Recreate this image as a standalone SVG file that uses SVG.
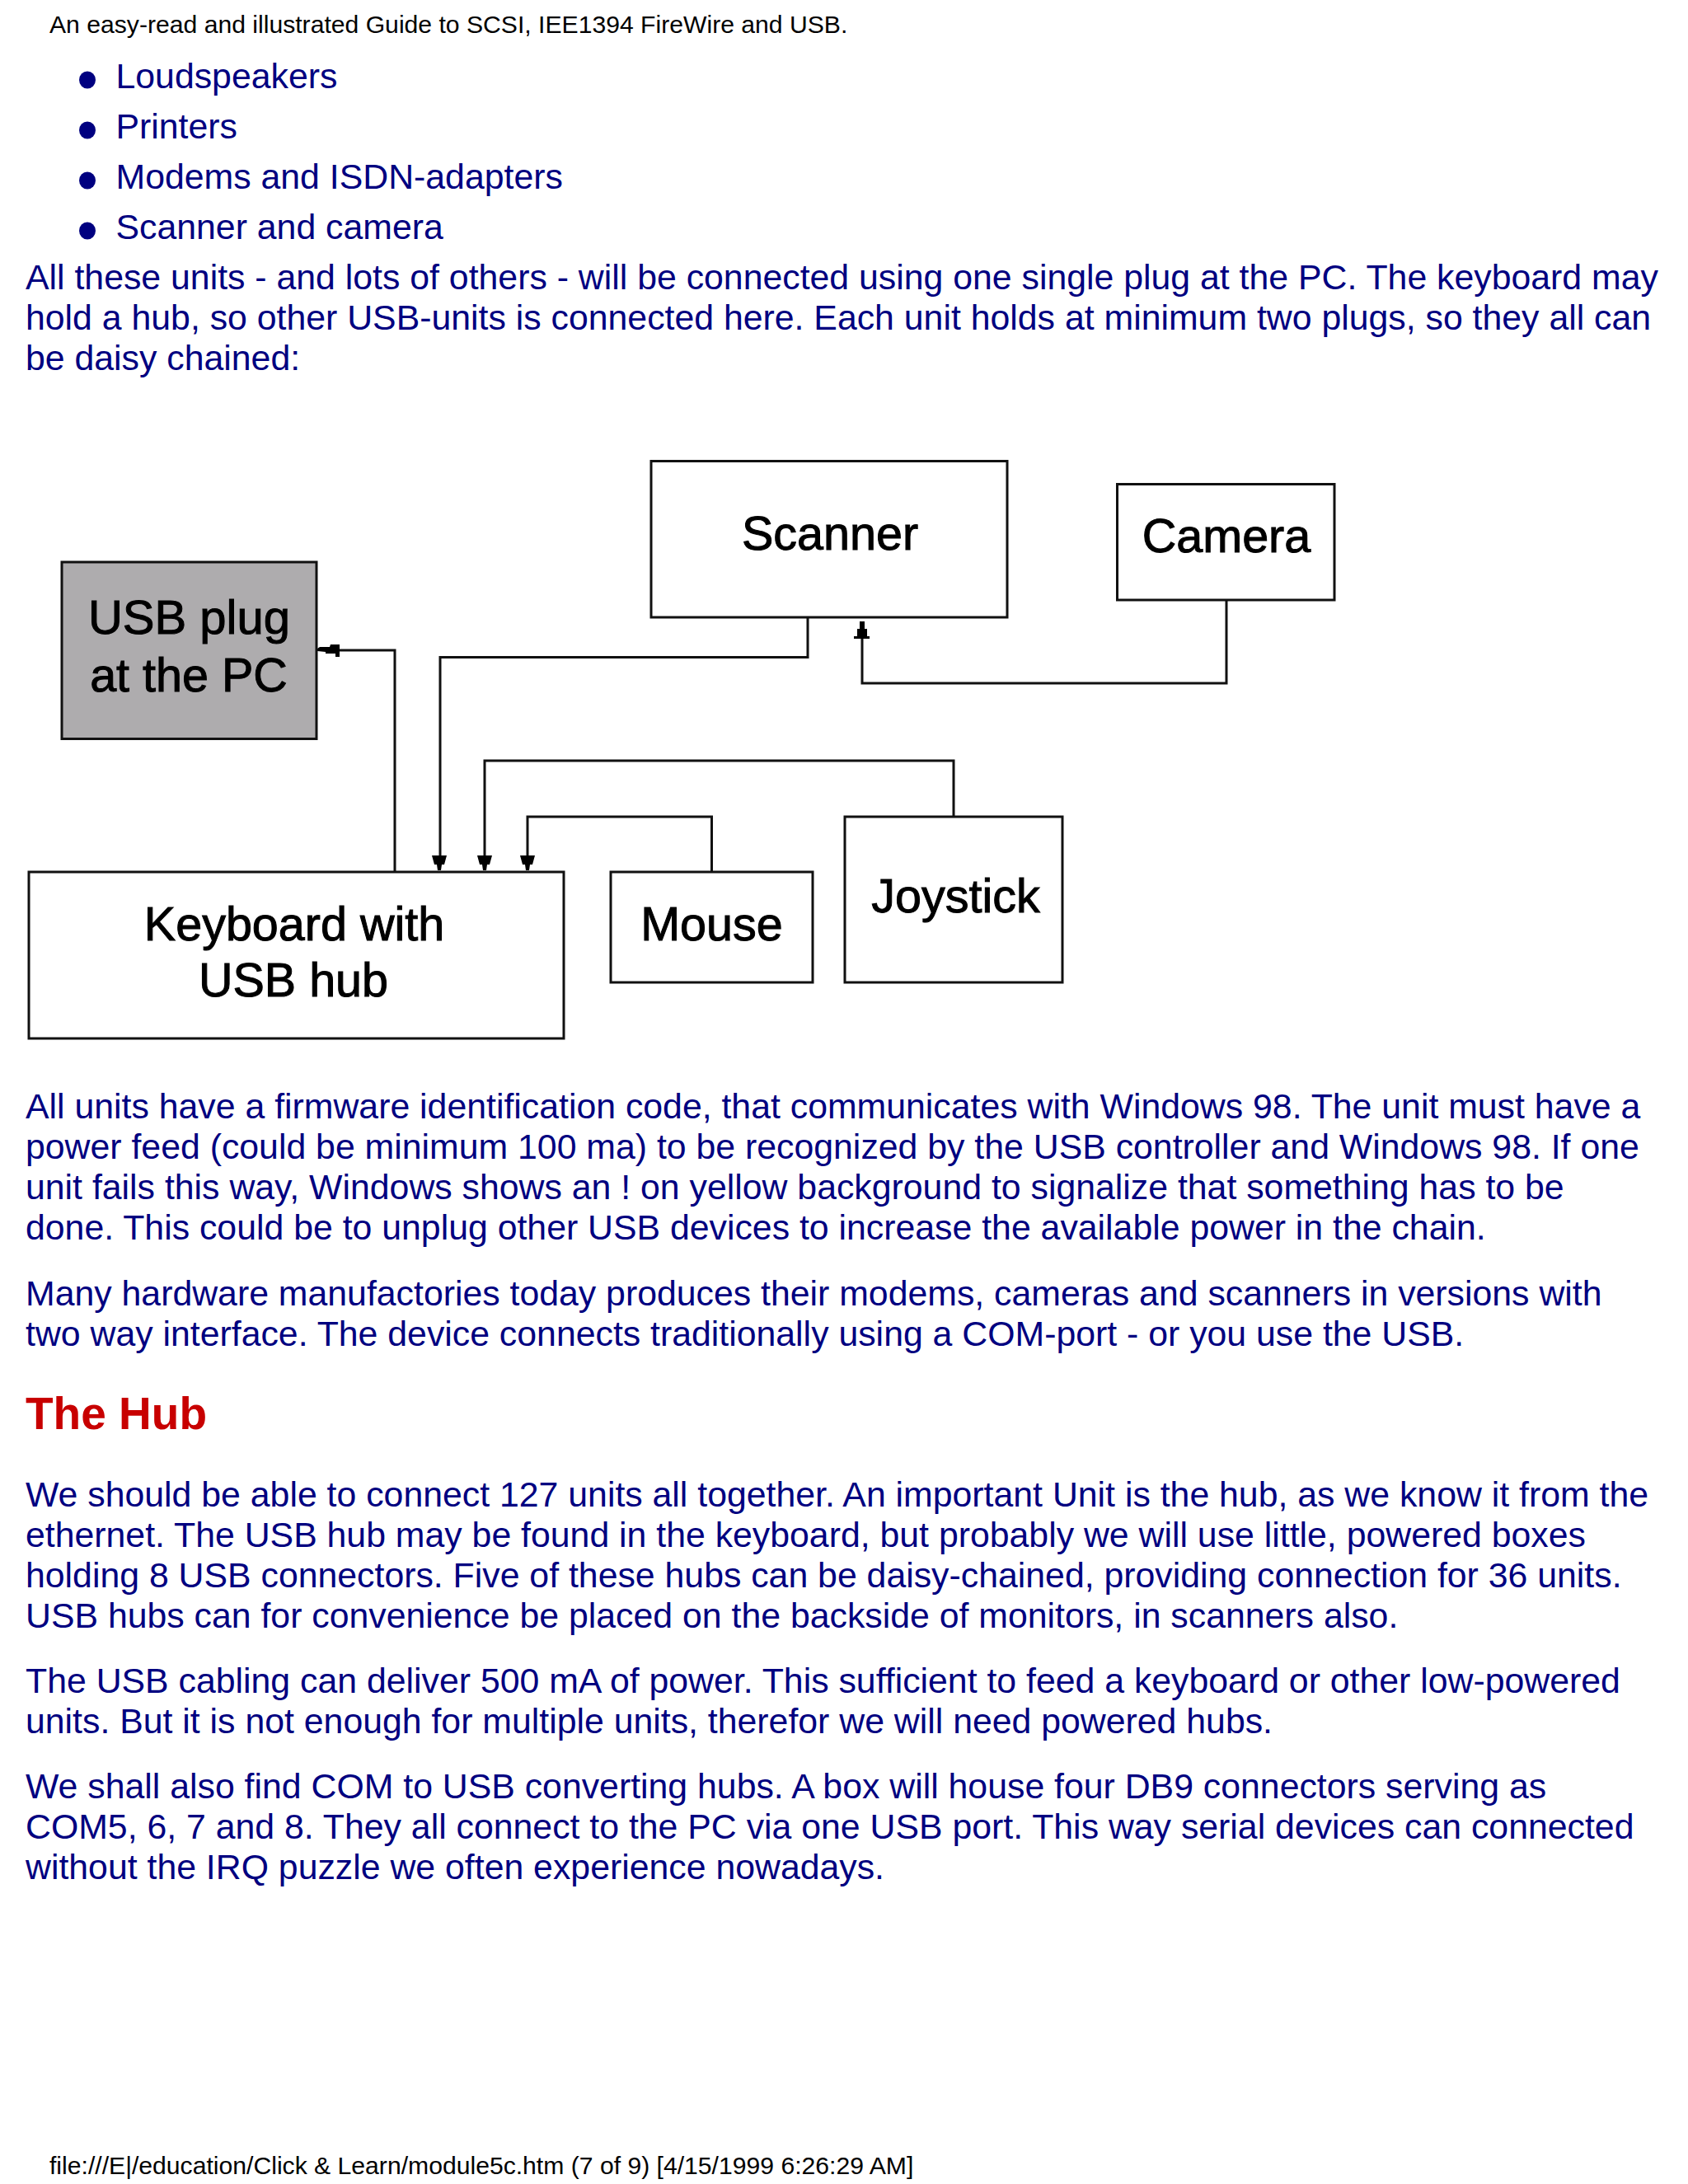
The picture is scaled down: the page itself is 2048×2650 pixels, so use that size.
<svg xmlns="http://www.w3.org/2000/svg" width="2048" height="2650" viewBox="0 0 2048 2650">
<style>
text{font-family:"Liberation Sans",Arial,sans-serif}
.b{font-size:42.8px;fill:#000080}
.h{font-size:30.15px;fill:#000}
.n{fill:#fff;stroke:#111;stroke-width:3}
.l{font-size:57.5px;fill:#000;text-anchor:middle;stroke:#000;stroke-width:1}
.c{fill:none;stroke:#111;stroke-width:3}
.a{fill:#000}
</style>
<defs>
<path id="down" d="M-9 0H9L6 11H3L2 18H-2L-3 11H-6Z"/>
</defs>
<rect width="2048" height="2650" fill="#fff"/>
<text class="h" x="60" y="40">An easy-read and illustrated Guide to SCSI, IEE1394 FireWire and USB.</text>
<g fill="#000080"><ellipse cx="106" cy="97" rx="10" ry="10.5"/><ellipse cx="106" cy="158" rx="10" ry="10.5"/><ellipse cx="106" cy="219" rx="10" ry="10.5"/><ellipse cx="106" cy="280" rx="10" ry="10.5"/></g>
<text class="b" x="140.500" y="107">Loudspeakers</text>
<text class="b" x="140.500" y="168">Printers</text>
<text class="b" x="140.500" y="229">Modems and ISDN-adapters</text>
<text class="b" x="140.500" y="290">Scanner and camera</text>
<text class="b" x="31" y="351">All these units - and lots of others - will be connected using one single plug at the PC. The keyboard may</text>
<text class="b" x="31" y="400">hold a hub, so other USB-units is connected here. Each unit holds at minimum two plugs, so they all can</text>
<text class="b" x="31" y="449">be daisy chained:</text>
<g id="connectors">
<path class="c" d="M479 1058V789H395"/>
<path class="c" d="M980 749V797.500H534V1045"/>
<path class="c" d="M1157 990V923H588V1045"/>
<path class="c" d="M863.500 1058V991H640V1045"/>
<path class="c" d="M1488 728V829H1046V770"/>
<path class="a" d="M385 787L388 785H400L401 782H412V797H407V793H395V791L385 790Z"/>
<use class="a" href="#down" x="533" y="1038"/>
<use class="a" href="#down" x="588" y="1038"/>
<use class="a" href="#down" x="640" y="1038"/>
<path class="a" d="M1043 754H1049V763H1052V772H1055V775H1036V772H1040V763H1043Z"/>
</g>
<g id="usb"><rect class="n" style="fill:#aeacae" x="75" y="682" width="309" height="214.500"/><text class="l" style="font-size:58px" x="229.500" y="769">USB plug</text><text class="l" x="229" y="839">at the PC</text></g>
<g id="keyboard"><rect class="n" x="35" y="1058" width="649" height="202"/><text class="l" x="357" y="1141">Keyboard with</text><text class="l" x="356" y="1209">USB hub</text></g>
<g id="mouse"><rect class="n" x="741" y="1058" width="245" height="134"/><text class="l" x="863.500" y="1141">Mouse</text></g>
<g id="joystick"><rect class="n" x="1025" y="991" width="264" height="201"/><text class="l" x="1159.500" y="1107">Joystick</text></g>
<g id="scanner"><rect class="n" x="790" y="559.500" width="432" height="189.500"/><text class="l" x="1007" y="667">Scanner</text></g>
<g id="camera"><rect class="n" x="1355.500" y="587.500" width="263.500" height="140.500"/><text class="l" x="1488" y="670">Camera</text></g>
<text class="b" x="31" y="1357">All units have a firmware identification code, that communicates with Windows 98. The unit must have a</text>
<text class="b" x="31" y="1406">power feed (could be minimum 100 ma) to be recognized by the USB controller and Windows 98. If one</text>
<text class="b" x="31" y="1455">unit fails this way, Windows shows an ! on yellow background to signalize that something has to be</text>
<text class="b" x="31" y="1504">done. This could be to unplug other USB devices to increase the available power in the chain.</text>
<text class="b" x="31" y="1584">Many hardware manufactories today produces their modems, cameras and scanners in versions with</text>
<text class="b" x="31" y="1633">two way interface. The device connects traditionally using a COM-port - or you use the USB.</text>
<text x="31" y="1734" font-size="55" font-weight="700" fill="#c80000">The Hub</text>
<text class="b" x="31" y="1828">We should be able to connect 127 units all together. An important Unit is the hub, as we know it from the</text>
<text class="b" x="31" y="1877">ethernet. The USB hub may be found in the keyboard, but probably we will use little, powered boxes</text>
<text class="b" x="31" y="1926">holding 8 USB connectors. Five of these hubs can be daisy-chained, providing connection for 36 units.</text>
<text class="b" x="31" y="1975">USB hubs can for convenience be placed on the backside of monitors, in scanners also.</text>
<text class="b" x="31" y="2054">The USB cabling can deliver 500 mA of power. This sufficient to feed a keyboard or other low-powered</text>
<text class="b" x="31" y="2103">units. But it is not enough for multiple units, therefor we will need powered hubs.</text>
<text class="b" x="31" y="2182">We shall also find COM to USB converting hubs. A box will house four DB9 connectors serving as</text>
<text class="b" x="31" y="2231">COM5, 6, 7 and 8. They all connect to the PC via one USB port. This way serial devices can connected</text>
<text class="b" x="31" y="2280">without the IRQ puzzle we often experience nowadays.</text>
<text class="h" x="60" y="2638">file:///E|/education/Click &amp; Learn/module5c.htm (7 of 9) [4/15/1999 6:26:29 AM]</text>
</svg>
